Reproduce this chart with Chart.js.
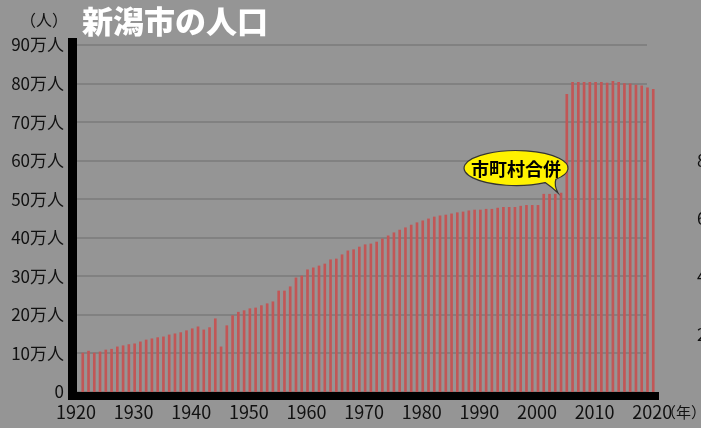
<!DOCTYPE html>
<html lang="ja">
<head>
<meta charset="utf-8">
<title>新潟市の人口</title>
<script src="https://cdn.jsdelivr.net/npm/chart.js@4.4.1/dist/chart.umd.min.js"></script>
<style>
  html, body { margin: 0; padding: 0; background: #959595; }
  #chartPop { display: block; }
</style>
</head>
<body>
<canvas id="chartPop" width="701" height="428"></canvas>
<script>
// 年 (1921〜2020)
const years = [
    1921, 1922, 1923, 1924, 1925, 1926, 1927, 1928, 1929, 1930,
    1931, 1932, 1933, 1934, 1935, 1936, 1937, 1938, 1939, 1940,
    1941, 1942, 1943, 1944, 1945, 1946, 1947, 1948, 1949, 1950,
    1951, 1952, 1953, 1954, 1955, 1956, 1957, 1958, 1959, 1960,
    1961, 1962, 1963, 1964, 1965, 1966, 1967, 1968, 1969, 1970,
    1971, 1972, 1973, 1974, 1975, 1976, 1977, 1978, 1979, 1980,
    1981, 1982, 1983, 1984, 1985, 1986, 1987, 1988, 1989, 1990,
    1991, 1992, 1993, 1994, 1995, 1996, 1997, 1998, 1999, 2000,
    2001, 2002, 2003, 2004, 2005, 2006, 2007, 2008, 2009, 2010,
    2011, 2012, 2013, 2014, 2015, 2016, 2017, 2018, 2019, 2020,
];

// 人口 (万人)
const popMan = [
    10.1, 10.6, 10.1, 10.4, 10.9, 11.1, 11.7, 12.0, 12.3, 12.5,
    13.0, 13.5, 13.8, 14.1, 14.3, 14.8, 15.1, 15.4, 15.9, 16.4,
    16.9, 16.1, 16.7, 19.0, 11.7, 17.2, 19.8, 20.7, 21.1, 21.6,
    21.8, 22.4, 22.9, 23.4, 26.2, 26.2, 27.3, 29.6, 30.1, 31.7,
    32.2, 32.7, 33.2, 34.3, 34.5, 35.6, 36.6, 36.9, 37.6, 38.2,
    38.4, 38.9, 39.7, 40.5, 41.3, 42.0, 42.6, 43.3, 43.9, 44.4,
    44.9, 45.4, 45.7, 45.9, 46.2, 46.5, 46.7, 47.0, 47.2, 47.2,
    47.4, 47.4, 47.7, 47.9, 47.9, 47.9, 48.2, 48.4, 48.4, 48.4,
    51.3, 51.3, 51.3, 51.6, 77.2, 80.3, 80.3, 80.3, 80.3, 80.3,
    80.3, 80.1, 80.6, 80.3, 80.0, 79.9, 79.6, 79.4, 78.9, 78.5,
];

const xTickYears = [1920, 1930, 1940, 1950, 1960, 1970, 1980, 1990, 2000, 2010, 2020];
const yTicksMan = [0, 10, 20, 30, 40, 50, 60, 70, 80, 90];
const rightTicks = [20, 40, 60, 80];

const TITLE = '新潟市の人口';
const CALLOUT_TEXT = '市町村合併';
const CALLOUT_YEAR = 2004;

const FONT = '"Noto Sans CJK JP", "Noto Sans", sans-serif';
Chart.defaults.font.family = FONT;
Chart.defaults.color = '#111';

// 軸ラベルの余白がチャート領域を押し込まないようにする
function fixedSize(w, h) {
    return function (s) {
        if (w !== null) s.width = w;
        if (h !== null) s.height = h;
        s.paddingTop = 0;
        s.paddingBottom = 0;
        s.paddingLeft = 0;
        s.paddingRight = 0;
    };
}

const decorPlugin = {
    id: 'decor',
    beforeDatasetsDraw(chart) {
        // 横の目盛線 (右端は少し手前で止める)
        const { ctx, chartArea: a, scales } = chart;
        ctx.save();
        ctx.strokeStyle = '#818181';
        ctx.lineWidth = 2;
        yTicksMan.forEach(function (v) {
            const py = Math.round(scales.y.getPixelForValue(v));
            ctx.beginPath();
            ctx.moveTo(a.left, py);
            ctx.lineTo(a.right - 12, py);
            ctx.stroke();
        });
        ctx.restore();
    },
    afterDraw(chart) {
        const { ctx, chartArea: a, scales } = chart;
        const xs = scales.x, ys = scales.y;
        ctx.save();

        // 太い軸線
        ctx.fillStyle = '#000';
        ctx.fillRect(a.left - 9, a.top - 7, 9, a.bottom - a.top + 15);
        ctx.fillRect(a.left - 9, a.bottom, a.right - a.left + 9, 8);

        // タイトル
        ctx.fillStyle = '#fff';
        ctx.font = '900 31px ' + FONT;
        ctx.textAlign = 'left';
        ctx.textBaseline = 'middle';
        ctx.fillText(TITLE, 82, 21);

        // 単位
        ctx.fillStyle = '#111';
        ctx.font = '16px ' + FONT;
        ctx.textAlign = 'center';
        ctx.fillText('（人）', 44, 20);
        ctx.font = '15px ' + FONT;
        ctx.textAlign = 'left';
        ctx.fillText('（年）', 661, 412);

        // 吹き出し
        const i = years.indexOf(CALLOUT_YEAR);
        const tx = xs.getPixelForValue(CALLOUT_YEAR) - 3;
        const ty = ys.getPixelForValue(popMan[i]);
        const cx = tx - 42, cy = ty - 25, rx = 52, ry = 17.5;
        const a1 = 56 * Math.PI / 180, a2 = 40 * Math.PI / 180;
        ctx.beginPath();
        ctx.ellipse(cx, cy, rx, ry, 0, a1, a2 + Math.PI * 2);
        const ex = cx + rx * Math.cos(a2), ey = cy + ry * Math.sin(a2);
        const sx = cx + rx * Math.cos(a1), sy = cy + ry * Math.sin(a1);
        ctx.quadraticCurveTo(ex - 2, ey + 6, tx, ty);
        ctx.quadraticCurveTo(sx + 6, sy + 4, sx, sy);
        ctx.closePath();
        ctx.fillStyle = '#fff200';
        ctx.fill();
        ctx.lineWidth = 1.2;
        ctx.strokeStyle = '#333';
        ctx.stroke();

        ctx.fillStyle = '#000';
        ctx.font = 'bold 18px ' + FONT;
        ctx.textAlign = 'center';
        ctx.textBaseline = 'middle';
        ctx.fillText(CALLOUT_TEXT, cx, cy + 1);

        ctx.restore();
    },
};

new Chart(document.getElementById('chartPop'), {
    type: 'bar',
    data: {
        datasets: [{
            label: '人口',
            data: years.map(function (yr, i) { return { x: yr, y: popMan[i] }; }),
            backgroundColor: '#c25656',
            borderWidth: 0,
            barThickness: 2,
            yAxisID: 'y',
        }],
    },
    options: {
        responsive: false,
        animation: false,
        devicePixelRatio: 1,
        layout: { padding: { top: 45, right: 0, bottom: 0, left: 0 } },
        plugins: { legend: { display: false }, tooltip: { enabled: false } },
        scales: {
            x: {
                type: 'linear',
                offset: false,
                min: 1920,
                max: 2021,
                afterBuildTicks: function (s) { s.ticks = xTickYears.map(function (v) { return { value: v }; }); },
                afterFit: fixedSize(null, 36),
                grid: { display: false, drawTicks: false },
                border: { display: false },
                ticks: { padding: 9, labelOffset: -1, autoSkip: false, maxRotation: 0, font: { size: 18 }, callback: function (v) { return String(v); } },
            },
            y: {
                min: 0,
                max: 90,
                afterBuildTicks: function (s) { s.ticks = yTicksMan.map(function (v) { return { value: v }; }); },
                afterFit: fixedSize(77, null),
                grid: { display: false, drawTicks: false },
                border: { display: false },
                ticks: { padding: 13, font: { size: 17 }, callback: function (v) { return v === 0 ? '0' : v + '万人'; } },
            },
            y2: {
                position: 'right',
                min: 0,
                max: 120,
                afterBuildTicks: function (s) { s.ticks = rightTicks.map(function (v) { return { value: v }; }); },
                afterFit: fixedSize(42, null),
                grid: { display: false, drawTicks: false },
                border: { display: false },
                ticks: { padding: 38, font: { size: 17 } },
            },
        },
    },
    plugins: [decorPlugin],
});
</script>
</body>
</html>
